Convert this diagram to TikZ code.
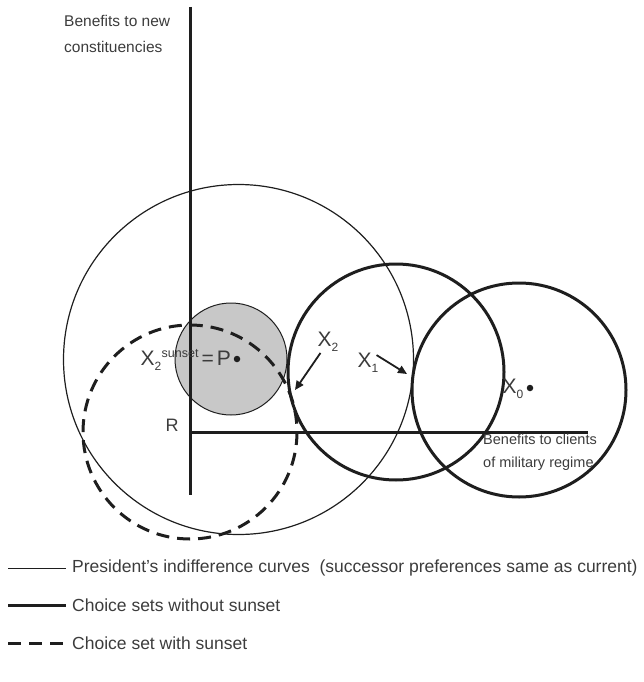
\documentclass[tikz,border=0pt]{standalone}
\usepackage{fontspec}
\setmainfont{Liberation Sans}
\usetikzlibrary{arrows.meta}
\definecolor{inkcolor}{RGB}{30,30,30}
\definecolor{labelcolor}{RGB}{60,60,60}
\definecolor{setfill}{RGB}{200,200,200}
\newcommand{\subidx}[1]{\raisebox{-5pt}{\fontsize{12}{12}\selectfont #1}}
\newcommand{\supidx}[1]{\raisebox{8pt}{\fontsize{12.5}{12.5}\selectfont #1}}
\tikzset{
  axis/.style={line width=3pt, color=inkcolor},
  indiff/.style={line width=1.2pt, color=inkcolor},
  choiceset/.style={line width=3pt, color=inkcolor},
  sunsetset/.style={line width=3pt, color=inkcolor, dash pattern=on 13pt off 8pt},
  ideal/.style={line width=1pt, color=inkcolor, fill=setfill},
  lbl/.style={font=\fontsize{15.5}{26}\selectfont, text=labelcolor, align=left, inner sep=0pt},
  keylbl/.style={font=\fontsize{17.5}{20}\selectfont, text=labelcolor, inner sep=0pt},
  xlbl/.style={font=\fontsize{21}{21}\selectfont, text=labelcolor, inner sep=1pt},
  dot/.style={circle, fill=inkcolor, inner sep=0pt, minimum size=6.5pt},
  arr/.style={-{Triangle[length=9pt, width=8pt]}, line width=1.8pt, color=inkcolor}
}

\begin{document}
\begin{tikzpicture}[x=1pt, y=-1pt]
  \useasboundingbox (0,0) rectangle (643,682);

  % centres of the sets
  \coordinate (R)  at (190,432);
  \coordinate (P)  at (237,359);
  \coordinate (c1) at (396,372);
  \coordinate (c0) at (519,390);

  \draw[ideal] (231,359) circle (56);
  \draw[indiff] (238.5,359.5) circle (175);
  \draw[choiceset] (c1) circle (108);
  \draw[choiceset] (c0) circle (107);

  % axes
  \coordinate (ytop) at (190,7);
  \coordinate (ybot) at (190,495);
  \coordinate (xend) at (588,432);
  \draw[axis] (ytop) -- (ybot);
  \draw[axis] (R) -- (xend);

  \draw[sunsetset] (R) circle (107);

  \node[lbl, anchor=north west] (ylab) at (64,15) {Benefits to new\\constituencies};
  \node[lbl, font=\fontsize{14.5}{23}\selectfont, anchor=north west] (xlab) at (483,434) {Benefits to clients\\of military regime};
  \node[xlbl, font=\fontsize{18}{18}\selectfont] (rlab) at (172,425) {R};

  \node[xlbl, anchor=east] (plab) at (232,360) {X\rlap{\subidx{2}}\hspace{7pt}\supidx{sunset}\hspace{3pt}=\hspace{3pt}P};
  \node[dot] (pdot) at (P) {};
  \node[xlbl] (x2lab) at (328,342) {X\subidx{2}};
  \node[xlbl] (x1lab) at (368,363) {X\subidx{1}};
  \node[xlbl] (x0lab) at (513,389) {X\subidx{0}};
  \node[dot] (x0dot) at (530,388) {};

  \coordinate (t2) at (295,390);
  \coordinate (t1) at (407,374);
  \draw[arr] (x2lab) -- (t2);
  \draw[arr] ([shift={(-3pt,-3pt)}]x1lab.north east) -- (t1);

  % key
  \coordinate (k1a) at (8,568);   \coordinate (k1b) at (66,568);
  \coordinate (k2a) at (8,605);   \coordinate (k2b) at (66,605);
  \coordinate (k3a) at (8,643);   \coordinate (k3b) at (66,643);
  \draw[indiff, line width=0.9pt] (k1a) -- (k1b);
  \draw[choiceset] (k2a) -- (k2b);
  \draw[sunsetset] (k3a) -- (k3b);
  \node[keylbl, anchor=west] (k1) at (72,568) {President's indifference curves\ \ (successor preferences same as current)};
  \node[keylbl, anchor=west] (k2) at (72,605) {Choice sets without sunset};
  \node[keylbl, anchor=west] (k3) at (72,643) {Choice set with sunset};

\end{tikzpicture}
\end{document}
